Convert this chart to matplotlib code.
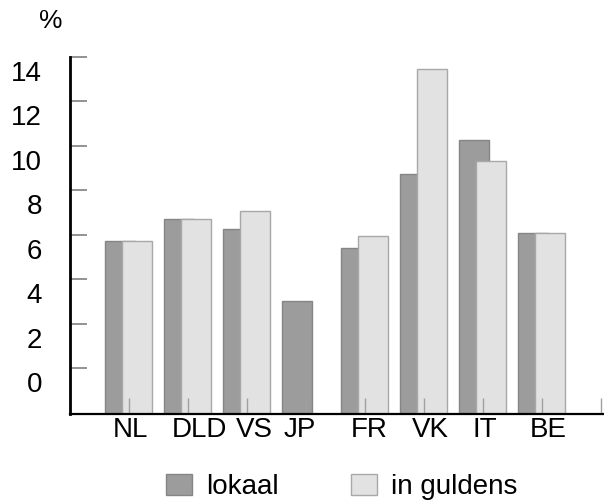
import numpy as np
import matplotlib
matplotlib.use("Agg")
import matplotlib.pyplot as plt
from matplotlib.transforms import ScaledTranslation

plt.rcParams['font.family'] = ['Liberation Sans', 'DejaVu Sans']

# data
landen = ['NL', 'DLD', 'VS', 'JP', 'FR', 'VK', 'IT', 'BE']
lokaal = [5.7, 6.7, 6.25, 3.0, 5.4, 8.75, 10.25, 6.1]
in_guldens = [5.7, 6.7, 7.05, np.nan, 5.95, 13.45, 9.3, 6.1]
y_ticks = [0, 2, 4, 6, 8, 10, 12, 14]

# layout
YMIN, YMAX = -2.07, 14
label_shift = [0.03, 0.19, 0.12, -0.1, 0.07, 0.1, 0.03, 0.1]

fig = plt.figure(figsize=(6.04, 5.03), dpi=100)
ax = fig.add_axes([70 / 604, 89 / 503, 534 / 604, 357 / 503])
ax.set_axisbelow(False)

x = np.arange(len(landen))
h_lok = [v - YMIN for v in lokaal]
h_gul = [v - YMIN for v in in_guldens]
b1 = ax.bar(x - 0.15, h_lok, width=0.51, bottom=YMIN, color='#9c9c9c',
            edgecolor='#858585', linewidth=1, zorder=1, label='lokaal')
b2 = ax.bar(x + 0.14, h_gul, width=0.51, bottom=YMIN, color='#e2e2e2',
            edgecolor='#a8a8a8', linewidth=1, zorder=1.5, label='in guldens')

ax.set_xlim(-1, 8.05)
ax.set_ylim(YMIN, YMAX)

for s in ['top', 'right']:
    ax.spines[s].set_visible(False)
ax.spines['left'].set_linewidth(2)
ax.spines['bottom'].set_linewidth(1.6)
ax.spines['left'].set_zorder(5)
ax.spines['bottom'].set_zorder(5)

ax.set_yticks(y_ticks)
ax.set_yticklabels([str(t) for t in y_ticks], fontsize=20)
ax.tick_params(axis='y', direction='in', length=12, width=1.3,
               color='#8a8a8a', pad=20)
off = ScaledTranslation(0, -0.14, fig.dpi_scale_trans)
for lab in ax.get_yticklabels():
    lab.set_transform(lab.get_transform() + off)

ax.set_xticks(np.arange(len(landen) + 1))
ax.set_xticklabels([])
ax.tick_params(axis='x', direction='in', length=11.5, width=1,
               color='#a0a0a0')

for i, name in enumerate(landen):
    ax.text(i + label_shift[i], -0.045, name, transform=ax.get_xaxis_transform(),
            ha='center', va='center', fontsize=20)

fig.text(51 / 604, 1 - 21 / 503, '%', ha='center', va='center', fontsize=19)

fig.legend(handles=[b1, b2], loc='center', bbox_to_anchor=(0.566, 0.032),
           ncol=2, frameon=False, fontsize=20, handlelength=0.95,
           handleheight=0.8, handletextpad=0.5, columnspacing=2.6)

fig.savefig('out.png', dpi=100)
